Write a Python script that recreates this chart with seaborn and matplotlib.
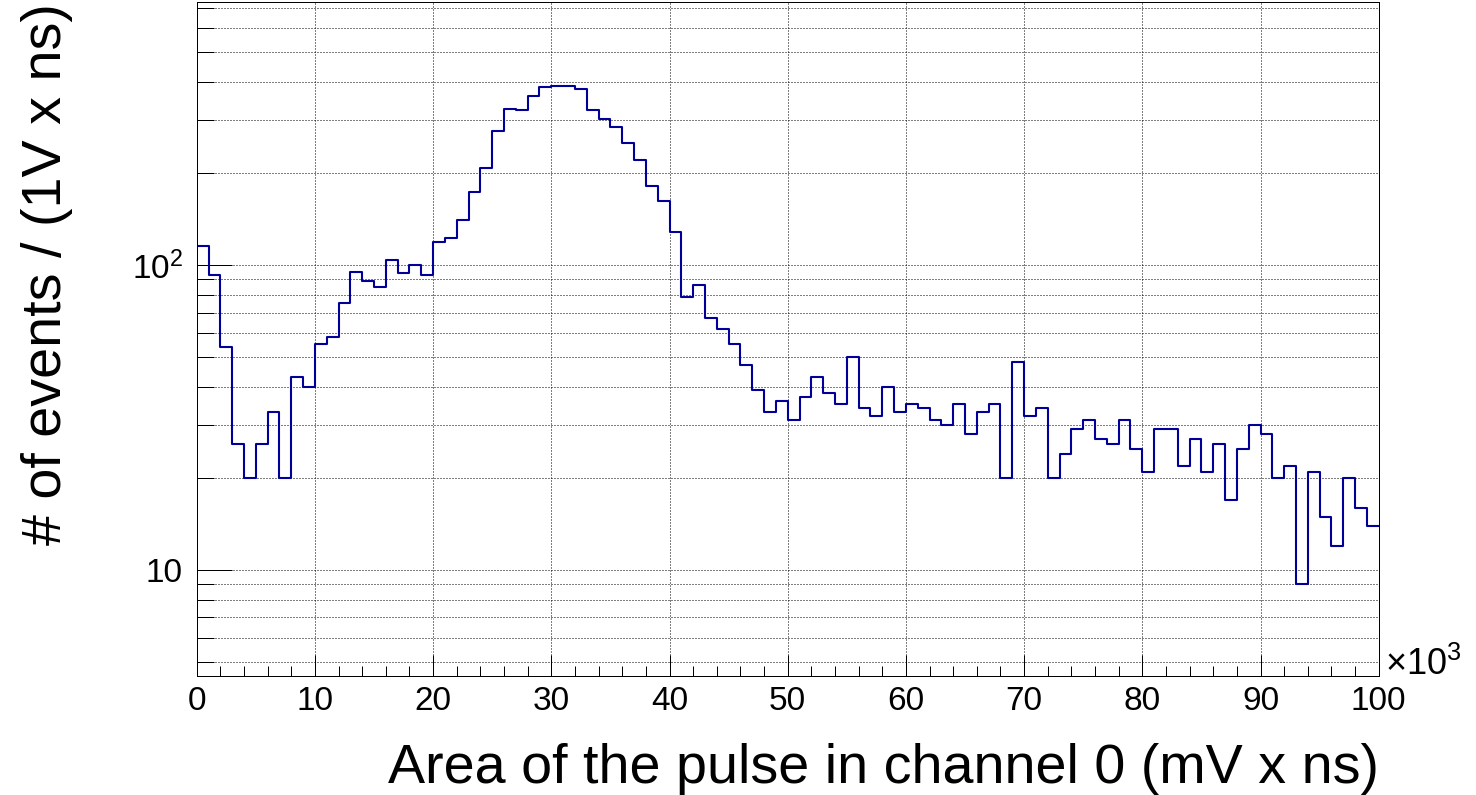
import numpy as np
import pandas as pd
import matplotlib
matplotlib.use("Agg")
import matplotlib.pyplot as plt
import seaborn as sns
from matplotlib.ticker import FixedLocator, FixedFormatter, NullFormatter

# ---------------- data ----------------
counts = [116, 93, 54, 26, 20, 26, 33, 20, 43, 40,
          55, 58, 75, 95, 89, 85, 104, 94, 100, 93,
          119, 123, 141, 174, 208, 276, 325, 322, 359, 384,
          386, 386, 379, 323, 301, 284, 252, 222, 182, 163,
          129, 79, 86, 67, 62, 55, 47, 39, 33, 36,
          31, 37, 43, 38, 35, 50, 34, 32, 40, 33,
          35, 34, 31, 30, 35, 28, 33, 35, 20, 48,
          32, 34, 20, 24, 29, 31, 27, 26, 31, 25,
          21, 29, 29, 22, 27, 21, 26, 17, 25, 30,
          28, 20, 22, 9, 21, 15, 12, 20, 16, 14]
bin_edges = list(np.linspace(0, 100000, 101))          # mV x ns
xtick_values = list(np.linspace(0, 100000, 11))
xtick_minor = list(np.linspace(0, 100000, 51))
xtick_labels = ["0", "10", "20", "30", "40", "50", "60", "70", "80", "90", "100"]
ytick_values = [10, 100]
ytick_labels = ["10", r"$\mathregular{10^{2}}$"]
ytick_minor = [5, 6, 7, 8, 9, 20, 30, 40, 50, 60, 70, 80, 90, 200, 300, 400, 500, 600, 700]
x_title = "Area of the pulse in channel 0 (mV x ns)"
y_title = "# of events / (1V x ns)"
x_multiplier = r"$\mathregular{\times10^{3}}$"
y_limits = (4.5, 730)

centers = [(a + b) / 2 for a, b in zip(bin_edges[:-1], bin_edges[1:])]
df = pd.DataFrame({"area": centers, "events": counts})

# ---------------- style ----------------
sns.set_theme(style="white")
plt.rcParams["font.family"] = ["Liberation Sans", "DejaVu Sans"]
plt.rcParams["mathtext.fontset"] = "custom"
plt.rcParams["mathtext.rm"] = "Liberation Sans"
plt.rcParams["mathtext.it"] = "Liberation Sans:italic"
plt.rcParams["mathtext.bf"] = "Liberation Sans:bold"

W, H, DPI = 1476, 795, 100
fig = plt.figure(figsize=(W / DPI, H / DPI), dpi=DPI)
fig.patch.set_facecolor("white")
L, R, T, B = 196.7, 1378.7, 2.0, 676.0
ax = fig.add_axes([L / W, (H - B) / H, (R - L) / W, (B - T) / H])

sns.histplot(data=df, x="area", weights="events", bins=bin_edges,
             element="step", fill=False, color="#000099", linewidth=1.5, ax=ax)

ax.set_yscale("log")
ax.set_xlim(bin_edges[0], bin_edges[-1])
ax.set_ylim(*y_limits)

ax.xaxis.set_major_locator(FixedLocator(xtick_values))
ax.xaxis.set_major_formatter(FixedFormatter(xtick_labels))
ax.xaxis.set_minor_locator(FixedLocator(xtick_minor))
ax.xaxis.set_minor_formatter(NullFormatter())
ax.yaxis.set_major_locator(FixedLocator(ytick_values))
ax.yaxis.set_major_formatter(FixedFormatter(ytick_labels))
ax.yaxis.set_minor_locator(FixedLocator(ytick_minor))
ax.yaxis.set_minor_formatter(NullFormatter())

grid_kw = dict(color="black", linestyle=(0, (1, 2)), linewidth=0.72)
ax.grid(True, which="major", axis="x", **grid_kw)
ax.grid(True, which="both", axis="y", **grid_kw)
ax.set_axisbelow(True)

ax.tick_params(axis="y", which="major", direction="in", length=25.2, width=0.72,
               pad=9.9, labelsize=24, left=True, right=False, colors="black")
ax.tick_params(axis="y", which="minor", direction="in", length=12.2, width=0.72,
               left=True, right=False, colors="black")
ax.tick_params(axis="x", which="major", direction="in", length=15, width=0.72,
               pad=7.0, labelsize=24, bottom=True, top=False, colors="black")
ax.tick_params(axis="x", which="minor", direction="in", length=7.2, width=0.72,
               bottom=True, top=False, colors="black")

for s in ax.spines.values():
    s.set_color("black")
    s.set_linewidth(0.72)
    s.set_visible(True)

ax.set_xlabel("")
ax.set_ylabel("")

fig.text(R / W, (H - 783) / H, x_title, ha="right", va="baseline", fontsize=40.1, color="black")
fig.text(61 / W, (H - 3) / H, y_title, ha="right", va="baseline", rotation=90,
         rotation_mode="anchor", fontsize=40.1, color="black")
fig.text(1385 / W, (H - 675) / H, x_multiplier, ha="left", va="baseline", fontsize=26, color="black")

fig.savefig("out.png", dpi=DPI, facecolor="white")
